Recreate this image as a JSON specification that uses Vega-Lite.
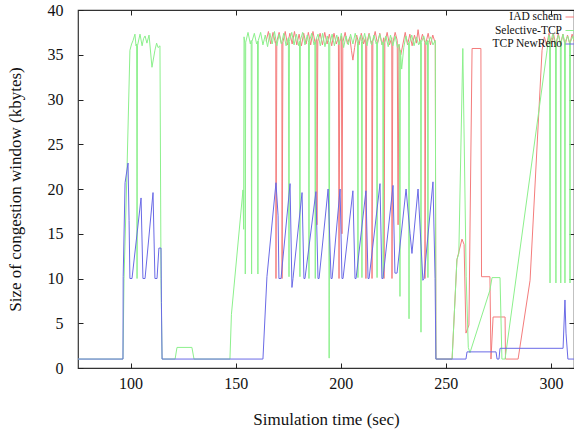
{
"$schema": "https://vega.github.io/schema/vega-lite/v6.json",
"width": 496, "height": 358,
"autosize": {"type": "none"},
"padding": {"left": 78, "top": 10, "right": 0, "bottom": 65},
"background": "white",
"config": {
 "font": "Liberation Serif",
 "view": {"stroke": "#333", "strokeWidth": 1.2},
 "axis": {"grid": false, "domain": false, "tickColor": "#222", "labelColor": "#111", "titleColor": "#111", "labelFont": "Liberation Serif", "titleFont": "Liberation Serif", "labelFontSize": 16, "titleFontSize": 17, "titleFontWeight": "normal", "tickSize": -5}
},
"datasets": {
"iad": [
{"t":164.5,"w":36.5},{"t":165.6,"w":37.6},{"t":166.7,"w":36.2},{"t":167.8,"w":37.5},{"t":168.9,"w":36.3},{"t":169.1,"w":36.5},{"t":169.2,"w":10},{"t":169.6,"w":36.5},{"t":170.7,"w":37.5},{"t":171.8,"w":36.2},{"t":172.0,"w":36.4},{"t":172.1,"w":10},{"t":172.5,"w":36.4},{"t":173.6,"w":37.6},{"t":174.7,"w":36.1},{"t":175.8,"w":37.4},{"t":176.9,"w":36.2},{"t":178.0,"w":37.6},{"t":179.1,"w":36.1},{"t":180.2,"w":37.3},{"t":181.3,"w":36.0},{"t":182.4,"w":37.4},{"t":183.5,"w":36.2},{"t":184.6,"w":37.5},{"t":185.7,"w":36.1},{"t":186.8,"w":37.6},{"t":187.9,"w":36.2},{"t":188.6,"w":36.8},{"t":188.7,"w":16},{"t":189.1,"w":36.5},{"t":190.2,"w":37.4},{"t":191.3,"w":36.1},{"t":192.4,"w":37.5},{"t":193.5,"w":36.2},{"t":194.6,"w":37.3},{"t":195.7,"w":36.0},{"t":196.8,"w":37.4},{"t":197.9,"w":36.2},{"t":198.9,"w":37.0},{"t":199.2,"w":10},{"t":199.6,"w":36.5},{"t":200.3,"w":37.1},{"t":200.6,"w":15},{"t":201.0,"w":36.4},{"t":202.1,"w":37.5},{"t":203.2,"w":36.2},{"t":204.3,"w":37.0},{"t":205.1,"w":35.5},{"t":205.8,"w":34.4},{"t":206.6,"w":35.8},{"t":207.6,"w":37.2},{"t":208.7,"w":36.1},{"t":209.8,"w":37.4},{"t":210.9,"w":36.2},{"t":211.9,"w":37.0},{"t":212.0,"w":10},{"t":212.4,"w":36.3},{"t":213.5,"w":37.4},{"t":214.6,"w":36.2},{"t":214.8,"w":36.5},{"t":214.9,"w":10},{"t":215.3,"w":36.5},{"t":216.4,"w":37.6},{"t":217.5,"w":36.2},{"t":218.6,"w":37.4},{"t":219.7,"w":36.1},{"t":220.5,"w":36.9},{"t":220.6,"w":10},{"t":221.0,"w":36.4},{"t":222.1,"w":37.5},{"t":223.2,"w":36.1},{"t":224.3,"w":36.9},{"t":224.4,"w":10},{"t":224.8,"w":36.3},{"t":225.9,"w":37.5},{"t":226.9,"w":36.6},{"t":227.3,"w":16},{"t":227.7,"w":36.1},{"t":228.6,"w":35.0},{"t":229.6,"w":36.2},{"t":230.7,"w":37.5},{"t":231.8,"w":36.1},{"t":232.9,"w":37.3},{"t":234.0,"w":36.0},{"t":235.1,"w":37.2},{"t":236.0,"w":36.3},{"t":236.8,"w":37.8},{"t":237.8,"w":36.2},{"t":238.9,"w":37.3},{"t":240.0,"w":36.4},{"t":240.1,"w":10},{"t":240.5,"w":36.3},{"t":241.6,"w":37.4},{"t":242.7,"w":36.1},{"t":243.8,"w":37.2},{"t":245.0,"w":36.3},{"t":245.3,"w":1},{"t":253.0,"w":1},{"t":255.3,"w":12.1},{"t":257.7,"w":14.4},{"t":258.7,"w":13.8},{"t":259.6,"w":3.9},{"t":261.0,"w":4.8},{"t":262.5,"w":35.7},{"t":266.7,"w":35.7},{"t":267.0,"w":10.2},{"t":271.0,"w":10.2},{"t":271.5,"w":1},{"t":272.5,"w":5.7},{"t":278.2,"w":5.7},{"t":278.4,"w":1},{"t":284.4,"w":1},{"t":290.1,"w":9.8},{"t":295.8,"w":35.5},{"t":296.9,"w":37.0},{"t":298.0,"w":36.1},{"t":299.1,"w":37.4},{"t":300.2,"w":36.2},{"t":301.3,"w":37.3},{"t":302.4,"w":36.0},{"t":303.5,"w":37.4},{"t":304.6,"w":36.2},{"t":305.7,"w":37.3},{"t":306.8,"w":36.1},{"t":307.9,"w":37.2},{"t":309.0,"w":36.2},{"t":310.1,"w":37.3},{"t":311.0,"w":36.5}
],
"sel": [
{"t":75,"w":1},{"t":96.4,"w":1},{"t":96.9,"w":10},{"t":98.3,"w":22},{"t":99.7,"w":35.5},{"t":100.5,"w":36.2},{"t":101.2,"w":36.6},{"t":102.1,"w":37.3},{"t":102.6,"w":36},{"t":102.9,"w":36.2},{"t":103.1,"w":10},{"t":103.3,"w":36},{"t":104.5,"w":37.3},{"t":105.5,"w":36},{"t":106.2,"w":36.8},{"t":106.9,"w":37.1},{"t":107.8,"w":36.3},{"t":108.8,"w":37.2},{"t":110.2,"w":33.6},{"t":111.6,"w":35.5},{"t":112.4,"w":36.3},{"t":113.1,"w":35.8},{"t":114.0,"w":36},{"t":114.5,"w":10},{"t":115.0,"w":1},{"t":121.2,"w":1},{"t":122.1,"w":2.3},{"t":129.2,"w":2.3},{"t":130.2,"w":1},{"t":147.3,"w":1},{"t":148.0,"w":6},{"t":153.5,"w":19.9},{"t":153.8,"w":15.5},{"t":154.0,"w":37.0},{"t":154.4,"w":36.3},{"t":154.6,"w":10.5},{"t":154.8,"w":36.4},{"t":155.9,"w":37.5},{"t":157.0,"w":36.2},{"t":157.4,"w":36.6},{"t":157.6,"w":10.5},{"t":157.8,"w":36.5},{"t":158.9,"w":37.4},{"t":160.0,"w":36.2},{"t":160.4,"w":36.5},{"t":160.6,"w":10.5},{"t":160.8,"w":36.6},{"t":161.9,"w":37.5},{"t":163.0,"w":36.1},{"t":164.1,"w":37.2},{"t":165.2,"w":35.9},{"t":166.3,"w":37.4},{"t":167.4,"w":36.2},{"t":168.5,"w":37.6},{"t":169.6,"w":36.0},{"t":170.7,"w":37.3},{"t":171.8,"w":36.2},{"t":172.9,"w":37.4},{"t":174.0,"w":36.0},{"t":175.1,"w":36.9},{"t":175.4,"w":10.2},{"t":175.6,"w":36.5},{"t":176.7,"w":37.5},{"t":177.8,"w":36.1},{"t":178.9,"w":37.3},{"t":180.0,"w":36.0},{"t":180.4,"w":36.5},{"t":180.6,"w":10.2},{"t":180.8,"w":36.6},{"t":181.9,"w":37.5},{"t":183.0,"w":36.1},{"t":184.1,"w":37.2},{"t":184.7,"w":36.4},{"t":184.9,"w":10.0},{"t":185.1,"w":36.5},{"t":186.2,"w":37.4},{"t":187.3,"w":36.1},{"t":187.7,"w":36.4},{"t":187.9,"w":10.0},{"t":188.1,"w":36.6},{"t":189.2,"w":37.3},{"t":190.3,"w":36.0},{"t":191.4,"w":37.4},{"t":192.5,"w":35.9},{"t":193.6,"w":37.1},{"t":194.3,"w":36.4},{"t":194.5,"w":1.1},{"t":194.8,"w":36.2},{"t":195.9,"w":37.3},{"t":197.0,"w":36.0},{"t":198.1,"w":37.2},{"t":199.2,"w":36.1},{"t":200.3,"w":37.4},{"t":201.4,"w":35.8},{"t":202.5,"w":37.1},{"t":203.6,"w":36.1},{"t":204.7,"w":37.3},{"t":205.8,"w":36.2},{"t":206.9,"w":37.4},{"t":208.0,"w":36.3},{"t":208.2,"w":10.1},{"t":208.4,"w":36.4},{"t":209.5,"w":37.2},{"t":209.9,"w":36.5},{"t":210.1,"w":10.1},{"t":210.3,"w":36.3},{"t":211.4,"w":37.4},{"t":212.5,"w":36.0},{"t":213.6,"w":37.3},{"t":214.7,"w":36.1},{"t":215.8,"w":37.2},{"t":216.9,"w":36.2},{"t":217.1,"w":36.4},{"t":217.3,"w":10.1},{"t":217.5,"w":36.4},{"t":218.6,"w":37.3},{"t":219.7,"w":36.1},{"t":220.0,"w":36.4},{"t":220.2,"w":10.1},{"t":220.4,"w":36.2},{"t":221.5,"w":37.1},{"t":222.6,"w":35.9},{"t":223.7,"w":37.2},{"t":224.8,"w":36.0},{"t":225.9,"w":37.1},{"t":227.0,"w":35.8},{"t":227.8,"w":36.2},{"t":228.2,"w":8.0},{"t":228.4,"w":35.5},{"t":229.0,"w":33.4},{"t":230.0,"w":35.8},{"t":231.0,"w":37.1},{"t":232.1,"w":36.1},{"t":232.3,"w":36.3},{"t":232.5,"w":5.5},{"t":232.7,"w":36.3},{"t":233.8,"w":37.2},{"t":234.9,"w":36.0},{"t":236.0,"w":37.0},{"t":237.1,"w":36.1},{"t":238.0,"w":36.6},{"t":238.2,"w":4.0},{"t":238.4,"w":36.4},{"t":239.5,"w":37.1},{"t":240.6,"w":36.1},{"t":241.3,"w":36.6},{"t":241.5,"w":10.1},{"t":241.7,"w":36.4},{"t":242.8,"w":37.0},{"t":243.9,"w":36.1},{"t":245.0,"w":36.6},{"t":245.3,"w":1},{"t":253.0,"w":1},{"t":255.3,"w":12.1},{"t":256.2,"w":12.8},{"t":258.1,"w":35.7},{"t":259.7,"w":10.2},{"t":260.7,"w":2.3},{"t":261.5,"w":1.7},{"t":271.0,"w":8.7},{"t":272.0,"w":10.1},{"t":275.8,"w":10.1},{"t":276.7,"w":1},{"t":278.2,"w":1},{"t":298.2,"w":35.5},{"t":299.0,"w":37.2},{"t":299.4,"w":36.5},{"t":299.6,"w":9.5},{"t":299.8,"w":36.4},{"t":300.9,"w":37.3},{"t":302.0,"w":36.2},{"t":302.2,"w":36.4},{"t":302.4,"w":9.5},{"t":302.6,"w":36.5},{"t":303.6,"w":37.2},{"t":304.5,"w":36.2},{"t":304.7,"w":9.5},{"t":304.9,"w":36.4},{"t":305.8,"w":37.3},{"t":306.5,"w":36.3},{"t":306.7,"w":9.5},{"t":306.9,"w":36.5},{"t":308.0,"w":37.1},{"t":308.9,"w":36.3},{"t":309.1,"w":9.5},{"t":309.3,"w":36.4},{"t":310.4,"w":37.1},{"t":311.0,"w":36.6}
],
"nr": [
{"t":75,"w":1},{"t":96.4,"w":1},{"t":96.5,"w":10.2},{"t":97.4,"w":20.7},{"t":98.8,"w":22.9},{"t":99.3,"w":16.5},{"t":99.7,"w":10},{"t":100.7,"w":10},{"t":105.0,"w":19.0},{"t":105.9,"w":10},{"t":106.9,"w":10},{"t":110.7,"w":19.6},{"t":111.6,"w":10},{"t":112.6,"w":10},{"t":113.5,"w":13.4},{"t":114.5,"w":13.4},{"t":114.7,"w":7.3},{"t":115.0,"w":1},{"t":163.0,"w":1},{"t":164.9,"w":10.2},{"t":169.2,"w":20.7},{"t":170.2,"w":17},{"t":170.6,"w":10},{"t":171.6,"w":10},{"t":175.9,"w":20.6},{"t":176.8,"w":9},{"t":177.3,"w":10},{"t":181.6,"w":19.6},{"t":182.5,"w":10},{"t":183.0,"w":10},{"t":188.2,"w":19.7},{"t":189.2,"w":10},{"t":189.7,"w":10},{"t":194.0,"w":20},{"t":195.4,"w":10},{"t":195.9,"w":10},{"t":199.7,"w":20},{"t":200.6,"w":10},{"t":201.1,"w":10},{"t":205.8,"w":19.8},{"t":206.8,"w":10},{"t":207.3,"w":10},{"t":212.0,"w":19.8},{"t":213.0,"w":10},{"t":213.5,"w":10},{"t":218.7,"w":20.6},{"t":219.6,"w":10},{"t":220.1,"w":10},{"t":224.9,"w":20.4},{"t":225.8,"w":10.6},{"t":226.8,"w":10.6},{"t":231.1,"w":20},{"t":233.0,"w":15},{"t":233.9,"w":12.8},{"t":236.8,"w":20},{"t":239.1,"w":9.8},{"t":239.6,"w":10},{"t":243.9,"w":20.8},{"t":244.9,"w":10},{"t":245.3,"w":1},{"t":259.6,"w":1},{"t":260.1,"w":1.8},{"t":273.9,"w":1.8},{"t":274.4,"w":1},{"t":275.3,"w":1},{"t":275.8,"w":2.2},{"t":305.8,"w":2.2},{"t":306.7,"w":7.6},{"t":307.2,"w":3.9},{"t":308.1,"w":1},{"t":311,"w":1}
]
},
"layer": [
 {"data": {"name": "iad"}, "mark": {"type": "line", "strokeWidth": 1, "clip": true},
  "encoding": {
   "x": {"field": "t", "type": "quantitative", "scale": {"domain": [75, 311], "nice": false, "zero": false},
         "axis": {"orient": "bottom", "title": "Simulation time (sec)", "values": [100, 150, 200, 250, 300], "labelPadding": 12, "titlePadding": 20, "labelFont": "Liberation Serif", "titleFont": "Liberation Serif"}},
   "y": {"field": "w", "type": "quantitative", "scale": {"domain": [0, 40], "nice": false},
         "axis": {"orient": "left", "title": "Size of congestion window (kbytes)", "values": [0, 5, 10, 15, 20, 25, 30, 35, 40], "labelPadding": 20, "titlePadding": 23, "labelFont": "Liberation Serif", "titleFont": "Liberation Serif"}},
   "color": {"datum": "IAD schem", "type": "nominal",
     "scale": {"domain": ["IAD schem", "Selective-TCP", "TCP NewReno"], "range": ["#f47c7c", "#8cf08c", "#6a6ae6"]},
     "legend": {"orient": "none", "legendX": 487, "legendY": 0, "title": null, "symbolType": "stroke", "symbolSize": 169, "symbolStrokeWidth": 1, "labelAlign": "right", "labelOffset": -17, "labelFontSize": 11.5, "labelFont": "Liberation Serif", "labelColor": "#111", "rowPadding": 0.5, "padding": 0}}
  }},
 {"data": {"name": "sel"}, "mark": {"type": "line", "strokeWidth": 1, "clip": true},
  "encoding": {
   "x": {"field": "t", "type": "quantitative", "axis": null},
   "y": {"field": "w", "type": "quantitative", "axis": null},
   "color": {"datum": "Selective-TCP", "type": "nominal"}
  }},
 {"data": {"name": "nr"}, "mark": {"type": "line", "strokeWidth": 1, "clip": true},
  "encoding": {
   "x": {"field": "t", "type": "quantitative", "axis": null},
   "y": {"field": "w", "type": "quantitative", "axis": null},
   "color": {"datum": "TCP NewReno", "type": "nominal"}
  }},
 {"data": {"name": "nr"}, "mark": {"type": "point", "opacity": 0},
  "encoding": {
   "x": {"field": "t", "type": "quantitative", "axis": {"orient": "top", "labels": false, "title": null, "values": [100, 150, 200, 250, 300]}},
   "y": {"field": "w", "type": "quantitative", "axis": {"orient": "right", "labels": false, "title": null, "values": [0, 5, 10, 15, 20, 25, 30, 35, 40]}}
  }}
],
"resolve": {"axis": {"x": "independent", "y": "independent"}}
}
